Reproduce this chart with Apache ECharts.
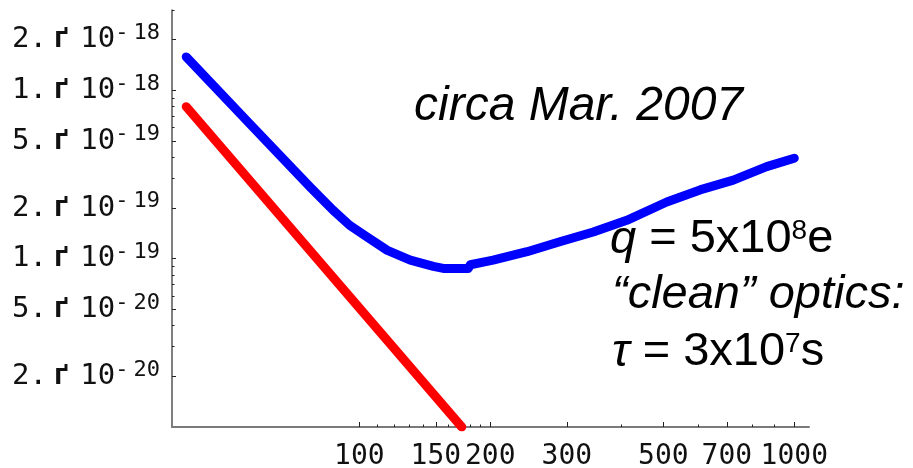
<!DOCTYPE html>
<html>
<head>
<meta charset="utf-8">
<script src="https://cdn.jsdelivr.net/npm/echarts@6/dist/echarts.min.js"></script>
<style>
  html, body { margin: 0; padding: 0; background: #fff; }
  #chart { width: 913px; height: 468px; }
</style>
</head>
<body>
<div id="chart"></div>
<script>
// values (frequency, noise), log-log plot
const blueFreq = [40, 55, 77, 87, 95, 104, 116, 131, 148, 156, 178, 180, 203, 243, 289, 345, 412, 509, 607, 724, 864, 1000];
const blueNoise = [1.58e-18, 6.64e-19, 2.67e-19, 1.94e-19, 1.58e-19, 1.35e-19, 1.12e-19, 9.8e-20, 9.0e-20, 8.75e-20, 8.75e-20, 9.2e-20,
  9.8e-20, 1.10e-19, 1.26e-19, 1.44e-19, 1.69e-19, 2.17e-19, 2.56e-19, 2.93e-19, 3.52e-19, 3.95e-19];
const redFreq = [40, 172];
const redNoise = [8.0e-19, 1.0e-20];

const xTicks = [100, 150, 200, 300, 500, 700, 1000];
const xMinorTicks = [110, 120, 130, 140, 160, 170, 180, 190, 400, 600, 800, 900];
const yTicks = [2e-18, 1e-18, 5e-19, 2e-19, 1e-19, 5e-20, 2e-20];
const yMinorTicks = [3e-18, 9e-19, 8e-19, 7e-19, 6e-19, 4e-19, 3e-19, 9e-20, 8e-20, 7e-20, 6e-20, 4e-20, 3e-20];

const xRange = [37.1, 1081];
const yRange = [1e-20, 3e-18];

const lg = Math.log10;
function nearest(arr, v) {
  let best = arr[0];
  arr.forEach(function (a) { if (Math.abs(lg(a) - v) < Math.abs(lg(best) - v)) best = a; });
  return best;
}

var chart = echarts.init(document.getElementById('chart'));
var mono = '"DejaVu Sans Mono", monospace';
var sans = '"Liberation Sans", Arial, sans-serif';

var option = {
  animation: false,
  backgroundColor: '#fff',
  grid: { left: 172, right: 104, top: 10, bottom: 41, containLabel: false, outerBoundsMode: 'none' },
  xAxis: [
    {
      type: 'value', position: 'bottom',
      min: lg(xRange[0]), max: lg(xRange[1]),
      axisLine: { show: true, lineStyle: { color: '#7a7a7a', width: 2 } },
      axisTick: { inside: true, length: 5, customValues: xTicks.map(lg), lineStyle: { color: '#222', width: 1 } },
      axisLabel: {
        customValues: xTicks.map(lg), margin: 16,
        fontFamily: mono, fontSize: 28, color: '#111',
        formatter: function (v) { return String(nearest(xTicks, v)); }
      },
      splitLine: { show: false }
    },
    {
      type: 'value', position: 'bottom',
      min: lg(xRange[0]), max: lg(xRange[1]),
      axisLine: { show: false },
      axisTick: { inside: true, length: 2.5, customValues: xMinorTicks.map(lg), lineStyle: { color: '#222', width: 1 } },
      axisLabel: { show: false },
      splitLine: { show: false }
    }
  ],
  yAxis: [
    {
      type: 'value', position: 'left',
      min: lg(yRange[0]), max: lg(yRange[1]),
      axisLine: { show: true, lineStyle: { color: '#555', width: 1.5 } },
      axisTick: { inside: true, length: 4, customValues: yTicks.map(lg), lineStyle: { color: '#222', width: 1 } },
      axisLabel: {
        customValues: yTicks.map(lg), margin: 12,
        padding: [0, 0, 3, 0],
        formatter: function (v) {
          var t = nearest(yTicks, v);
          var ex = Math.floor(lg(t) + 1e-9);
          var mant = Math.round(t / Math.pow(10, ex));
          return '{a|' + mant + '.}{x|ґ}{a|10}{m|-}{e|' + (-ex) + '}';
        },
        rich: {
          a: { fontFamily: mono, fontSize: 29, lineHeight: 32, color: '#111', verticalAlign: 'bottom' },
          x: { fontFamily: mono, fontSize: 29, fontWeight: 'bold', lineHeight: 32, color: '#111', verticalAlign: 'bottom', padding: [0, 10, 0, 6] },
          m: { fontFamily: mono, fontSize: 22, lineHeight: 22, color: '#111', verticalAlign: 'top' },
          e: { fontFamily: mono, fontSize: 22, lineHeight: 22, color: '#111', verticalAlign: 'top', padding: [0, 0, 0, 5] }
        }
      },
      splitLine: { show: false }
    },
    {
      type: 'value', position: 'left',
      min: lg(yRange[0]), max: lg(yRange[1]),
      axisLine: { show: false },
      axisTick: { inside: true, length: 2.5, customValues: yMinorTicks.map(lg), lineStyle: { color: '#222', width: 1 } },
      axisLabel: { show: false },
      splitLine: { show: false }
    }
  ],
  series: [
    {
      name: 'red', type: 'line', xAxisIndex: 0, yAxisIndex: 0,
      showSymbol: false, symbol: 'none',
      lineStyle: { color: '#ff0000', width: 9, cap: 'round', join: 'round' },
      data: redFreq.map(function (f, i) { return [lg(f), lg(redNoise[i])]; })
    },
    {
      name: 'blue', type: 'line', xAxisIndex: 0, yAxisIndex: 0,
      showSymbol: false, symbol: 'none',
      lineStyle: { color: '#0000ff', width: 9, cap: 'round', join: 'round' },
      data: blueFreq.map(function (f, i) { return [lg(f), lg(blueNoise[i])]; })
    }
  ],
  graphic: [
    {
      type: 'text', left: 414, top: 83,
      style: {
        text: '{i|circa Mar. 2007}',
        rich: { i: { fontFamily: sans, fontStyle: 'italic', fontSize: 48, lineHeight: 48, color: '#000' } }
      }
    },
    {
      type: 'text', left: 610, top: 216,
      style: {
        text: '{i|q}{n| = 5x10}{s|8}{n|e}',
        rich: {
          i: { fontFamily: sans, fontStyle: 'italic', fontSize: 47, lineHeight: 46, color: '#000', verticalAlign: 'bottom' },
          n: { fontFamily: sans, fontSize: 47, lineHeight: 46, color: '#000', verticalAlign: 'bottom' },
          s: { fontFamily: sans, fontSize: 28, lineHeight: 28, color: '#000', verticalAlign: 'top' }
        }
      }
    },
    {
      type: 'text', left: 612, top: 271,
      style: {
        text: '{i|\u201cclean\u201d optics:}',
        rich: { i: { fontFamily: sans, fontStyle: 'italic', fontSize: 47, lineHeight: 46, color: '#000' } }
      }
    },
    {
      type: 'text', left: 612, top: 329,
      style: {
        text: '{i|\u03c4}{n| = 3x10}{s|7}{n|s}',
        rich: {
          i: { fontFamily: sans, fontStyle: 'italic', fontSize: 47, lineHeight: 46, color: '#000', verticalAlign: 'bottom' },
          n: { fontFamily: sans, fontSize: 47, lineHeight: 46, color: '#000', verticalAlign: 'bottom' },
          s: { fontFamily: sans, fontSize: 28, lineHeight: 28, color: '#000', verticalAlign: 'top' }
        }
      }
    }
  ]
};

chart.setOption(option);
window.addEventListener('resize', chart.resize);
</script>
</body>
</html>
